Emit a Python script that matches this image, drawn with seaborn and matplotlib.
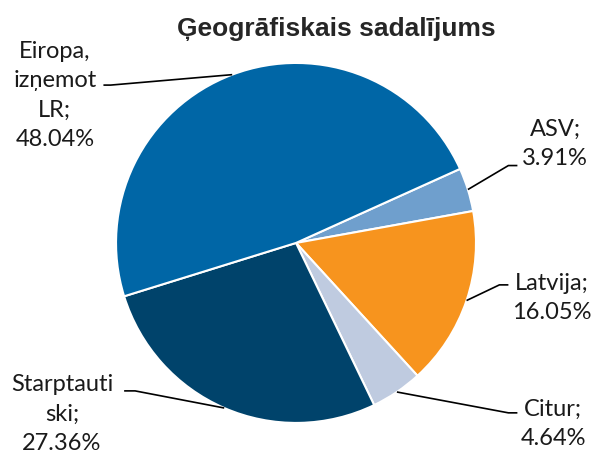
import numpy as np
import seaborn as sns
import matplotlib.pyplot as plt

# Data (clockwise from the ASV slice)
regions = ["ASV", "Latvija", "Citur", "Starptautiski", "Eiropa, izņemot LR"]
shares = [3.91, 16.05, 4.64, 27.36, 48.04]
label_text = ["ASV;\n3.91%", "Latvija;\n16.05%", "Citur;\n4.64%",
              "Starptauti\nski;\n27.36%", "Eiropa,\nizņemot\nLR;\n48.04%"]
colors = ["#6f9fcd", "#f7941e", "#bfcbe0", "#00436b", "#0066a6"]

sns.set_style("white")
plt.rcParams["font.family"] = ["Lato", "DejaVu Sans"]

fig = plt.figure(figsize=(5.95, 4.57), dpi=100)
ax = fig.add_axes([0.195, 0.0744, 0.605, 0.788])

wedges, _ = ax.pie(shares, colors=sns.color_palette(colors), startangle=24.3,
                   counterclock=False, radius=1,
                   wedgeprops=dict(edgecolor="white", linewidth=1.5))
ax.set_xlim(-1, 1)
ax.set_ylim(-1, 1)
ax.set_aspect("equal")
ax.axis("off")

# label layout: elbow x, elbow y, end x, text x, text y
layout = [
    (1.18, 0.43, 1.23, 1.44, 0.55),
    (1.13, -0.233, 1.18, 1.42, -0.305),
    (1.18, -0.944, 1.23, 1.43, -1.005),
    (-0.894, -0.822, -0.955, -1.30, -0.95),
    (-1.03, 0.877, -1.07, -1.34, 0.82),
]

for w, txt, (ex, ey, endx, tx, ty) in zip(wedges, label_text, layout):
    mid = np.deg2rad((w.theta1 + w.theta2) / 2)
    px, py = np.cos(mid), np.sin(mid)
    ax.plot([px, ex, endx], [py, ey, ey], color="black", lw=1.2,
            clip_on=False, solid_capstyle="butt")
    ax.text(tx, ty, txt, ha="center", va="center", fontsize=17, color="#1a1a1a",
            linespacing=1.5, clip_on=False)

fig.text(0.565, 0.937, "Ģeogrāfiskais sadalījums", ha="center", va="center",
         fontsize=19, fontweight="bold", family=["Liberation Sans", "DejaVu Sans"])

fig.savefig("out.png", dpi=100)
